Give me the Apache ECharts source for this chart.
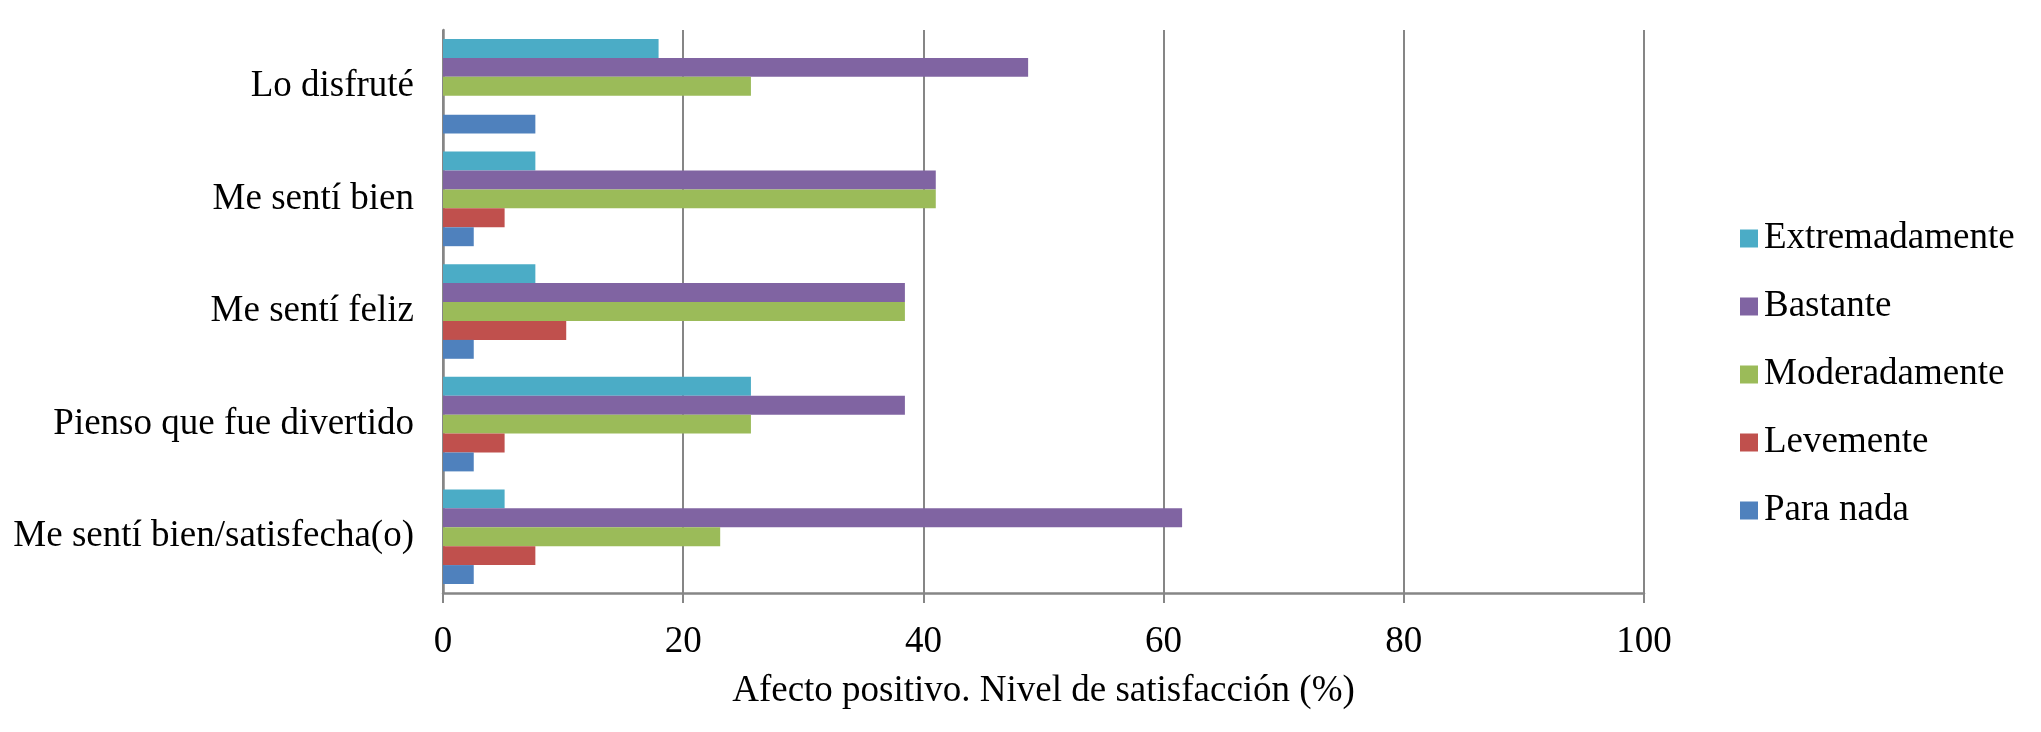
<!DOCTYPE html>
<html>
<head>
<meta charset="utf-8">
<script src="https://cdn.jsdelivr.net/npm/echarts@6/dist/echarts.min.js"></script>
<style>
html,body{margin:0;padding:0;background:#fff;}
#chart{width:2041px;height:732px;}
</style>
</head>
<body>
<div id="chart"></div>
<script>
// Categories listed bottom to top (ECharts category y-axis starts at the bottom)
const categories = ['Me sentí bien/satisfecha(o)', 'Pienso que fue divertido', 'Me sentí feliz', 'Me sentí bien', 'Lo disfruté'];
const paraNada       = [2.56, 2.56, 2.56, 2.56, 7.69];
const levemente      = [7.69, 5.13, 10.26, 5.13, 0];
const moderadamente  = [23.08, 25.64, 38.46, 41.03, 25.64];
const bastante       = [61.54, 38.46, 38.46, 41.03, 48.72];
const extremadamente = [5.13, 25.64, 7.69, 7.69, 17.95];
const xTicks = [0, 20, 40, 60, 80, 100];
const xTitle = 'Afecto positivo. Nivel de satisfacción (%)';
const legendOrder = ['Extremadamente', 'Bastante', 'Moderadamente', 'Levemente', 'Para nada'];

const FONT = "'Liberation Serif', 'Times New Roman', serif";
const GRAY = '#868686';

// series order: first series is drawn at the top of each group
const seriesDefs = [
  {name: 'Extremadamente', data: extremadamente, color: '#4BACC6'},
  {name: 'Bastante', data: bastante, color: '#8064A2'},
  {name: 'Moderadamente', data: moderadamente, color: '#9BBB59'},
  {name: 'Levemente', data: levemente, color: '#C0504D'},
  {name: 'Para nada', data: paraNada, color: '#4F81BD'}
];

const chart = echarts.init(document.getElementById('chart'), null, {renderer: 'canvas'});
chart.setOption({
  animation: false,
  backgroundColor: '#ffffff',
  textStyle: {fontFamily: FONT},
  grid: {left: 443, right: 397, top: 30, bottom: 139, containLabel: false},
  legend: {
    orient: 'vertical',
    left: 1735,
    top: 215,
    data: legendOrder,
    itemWidth: 18,
    itemHeight: 18,
    itemGap: 31,
    icon: 'rect',
    textStyle: {fontFamily: FONT, fontSize: 37, color: '#000', lineHeight: 36, padding: [0, 0, 0, 1]}
  },
  xAxis: {
    type: 'value',
    min: xTicks[0],
    max: xTicks[xTicks.length - 1],
    interval: xTicks[1] - xTicks[0],
    name: xTitle,
    nameLocation: 'middle',
    nameGap: 80,
    nameTextStyle: {fontFamily: FONT, fontSize: 37, color: '#000'},
    axisLine: {show: true, lineStyle: {color: GRAY, width: 2.5}},
    axisTick: {show: true, length: 10, lineStyle: {color: GRAY, width: 2}},
    axisLabel: {fontFamily: FONT, fontSize: 37, color: '#000', margin: 31},
    splitLine: {show: true, lineStyle: {color: GRAY, width: 2}}
  },
  yAxis: {
    type: 'category',
    data: categories,
    axisLine: {show: true, lineStyle: {color: GRAY, width: 2.5}},
    axisTick: {show: false},
    axisLabel: {fontFamily: FONT, fontSize: 37, color: '#000', margin: 29},
    splitLine: {show: false}
  },
  series: seriesDefs.map(s => ({
    name: s.name,
    type: 'bar',
    data: s.data,
    barGap: '0%',
    barCategoryGap: '16%',
    itemStyle: {color: s.color}
  }))
});
</script>
</body>
</html>
